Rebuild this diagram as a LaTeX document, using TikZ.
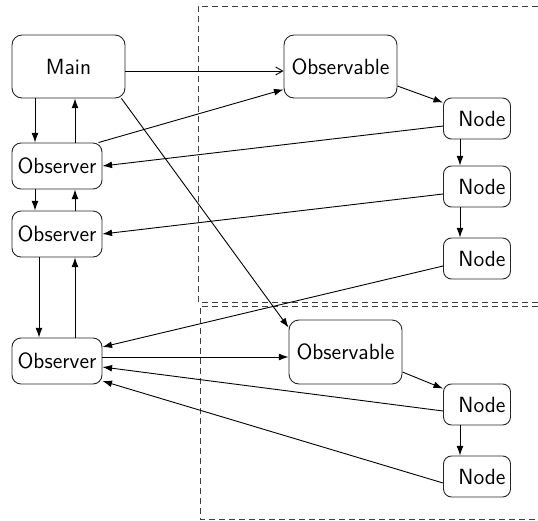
\documentclass[tikz,border=0pt]{standalone}
\usetikzlibrary{arrows.meta,calc}
\begin{document}
\begin{tikzpicture}[x=0.5pt,y=-0.5pt,
  font=\sffamily\fontsize{11}{13}\selectfont,
  base/.style={draw=black!85,line width=0.45pt,inner sep=1pt},
  bigbox/.style={base,rounded corners=5pt,minimum width=56.5pt,minimum height=31.5pt},
  obsbox/.style={base,rounded corners=4.5pt,minimum width=45pt,minimum height=23pt},
  nodebox/.style={base,rounded corners=4pt,text width=28.5pt,align=right,inner xsep=2.5pt,minimum height=20.5pt},
  arr/.style={line width=0.45pt,-{Latex[length=4.8pt,width=3.4pt]}},
  openarr/.style={line width=0.45pt,-{Straight Barb[length=3.5pt,width=4pt]}},
  region/.style={dashed,draw=black!75,line width=0.45pt,dash pattern=on 3pt off 2pt}]
\useasboundingbox (0,0) rectangle (538,521);
% dashed regions
\draw[region] (538,6) -- (198,6) -- (198,302) -- (538,302);
\draw[region] (538,306) -- (200,306) -- (200,519) -- (538,519);
% nodes
\node[bigbox] (main) at (68.5,66.5) {Main};
\node[bigbox] (obsA) at (340.5,66.5) {Observable};
\node[bigbox,minimum height=32pt] (obsB) at (345.5,352) {Observable};
\node[obsbox] (o1) at (57,166) {Observer};
\node[obsbox] (o2) at (57,234) {Observer};
\node[obsbox] (o3) at (57,361) {Observer};
\node[nodebox] (n1) at (477,118.5) {Node};
\node[nodebox] (n2) at (477,186.5) {Node};
\node[nodebox] (n3) at (477,258.5) {Node};
\node[nodebox] (n4) at (477,404.5) {Node};
\node[nodebox] (n5) at (477,476.5) {Node};
% main <-> observers
\draw[openarr] ([yshift=-2.25pt]main.east) -- ([yshift=-2.25pt]main.east -| obsA.west);
\draw[arr] ([xshift=-16.75pt]main.south) -- ([xshift=-11pt]o1.north);
\draw[arr] ([xshift=9pt]o1.north) -- ([xshift=3.25pt]main.south);
\draw[arr] ([xshift=-11pt]o1.south) -- ([xshift=-11pt]o2.north);
\draw[arr] ([xshift=9pt]o2.north) -- ([xshift=9pt]o1.south);
\draw[arr] ([xshift=-9pt]o2.south) -- ([xshift=-9pt]o3.north);
\draw[arr] ([xshift=9pt]o3.north) -- ([xshift=9pt]o2.south);
% upper group
\draw[arr] ([xshift=-2pt]o1.north east) -- ([yshift=4.5pt]obsA.south west);
\draw[arr] ([yshift=-9.75pt]obsA.east) -- ([yshift=-2.5pt]n1.north west);
\draw[arr] ([xshift=-8.5pt]n1.south) -- ([xshift=-8.5pt]n2.north);
\draw[arr] ([xshift=-8.5pt]n2.south) -- ([xshift=-8.5pt]n3.north);
\draw[arr] ([yshift=-3.75pt]n1.west) -- (o1.east);
\draw[arr] ([yshift=-3.75pt]n2.west) -- (o2.east);
\draw[arr] ([yshift=-3.75pt]n3.west) -- ([yshift=7pt]o3.east);
% lower group
\draw[arr] ([xshift=-2pt]main.south east) -- ([yshift=-4pt]obsB.north west);
\draw[arr] ([yshift=2pt]o3.east) -- ([yshift=2pt]o3.east -| obsB.west);
\draw[arr] ([yshift=-10pt]obsB.east) -- ([yshift=-2.5pt]n4.north west);
\draw[arr] ([xshift=-8.5pt]n4.south) -- ([xshift=-8.5pt]n5.north);
\draw[arr] ([yshift=-3.25pt]n4.west) -- ([yshift=-3pt]o3.east);
\draw[arr] ([yshift=-3.25pt]n5.west) -- ([yshift=-10pt]o3.east);
\end{tikzpicture}
\end{document}
